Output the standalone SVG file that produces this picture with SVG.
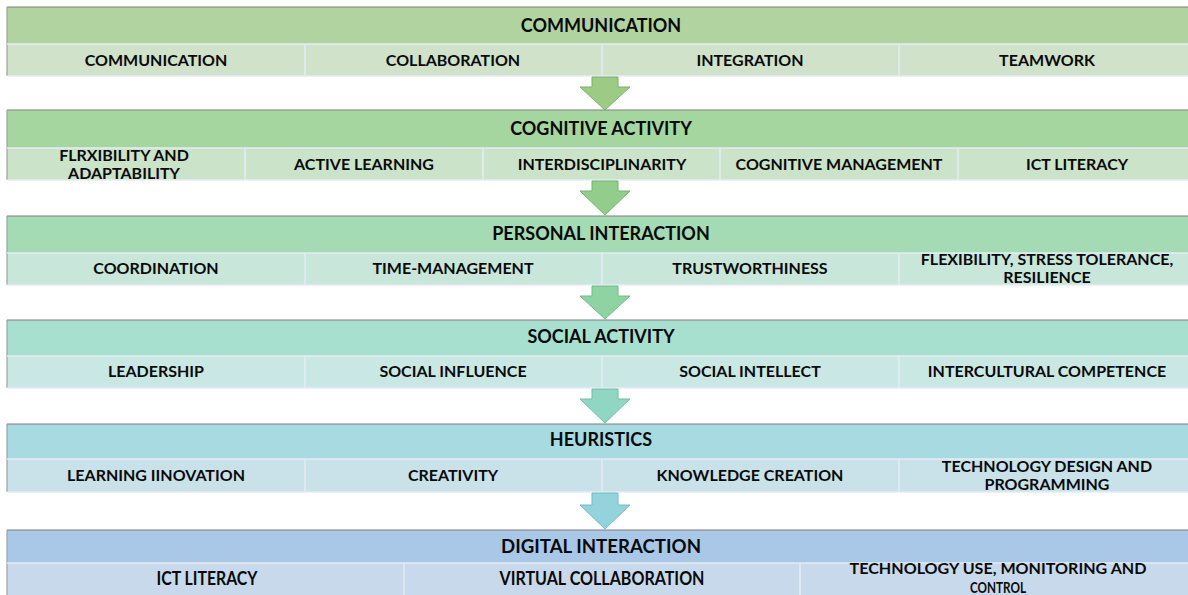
<svg xmlns="http://www.w3.org/2000/svg" width="1188" height="595" viewBox="0 0 1188 595">
<style>
text{font-family:Lato,"Liberation Sans",sans-serif;font-weight:700;font-size:16px;fill:#0a0a0a;text-anchor:middle}
text.h{font-size:18px}
.top{stroke:#7f7f7f;stroke-width:1.2}
.side{stroke:#a0a0a0;stroke-width:1.2}
.sep{stroke:#e4ecf4;stroke-width:1.5}
.arrow{stroke-width:1}
text.cond{font-size:19px}
text.cond2{font-size:15px}
</style>
<rect width="1188" height="595" fill="#ffffff"/>

<g id="communication">
<rect x="7" y="7" width="1190" height="37" fill="#b0d3a0"/>
<rect x="7" y="44" width="1190" height="32" fill="#d0e2c9"/>
<line class="top" x1="7" y1="7" x2="1190" y2="7"/>
<line class="side" x1="7" y1="7" x2="7" y2="76"/>
<line class="sep" x1="7" y1="44" x2="1190" y2="44"/>
<line class="sep" x1="7" y1="76" x2="1190" y2="76"/>
<line class="sep" x1="305" y1="44" x2="305" y2="76"/>
<line class="sep" x1="602" y1="44" x2="602" y2="76"/>
<line class="sep" x1="899" y1="44" x2="899" y2="76"/>
<text class="h" x="601" y="32">COMMUNICATION</text>
<text x="156" y="66">COMMUNICATION</text>
<text x="453" y="66">COLLABORATION</text>
<text x="750" y="66">INTEGRATION</text>
<text x="1047" y="66">TEAMWORK</text>
</g>

<g id="cognitive-activity">
<rect x="7" y="110" width="1190" height="38" fill="#a6d6a0"/>
<rect x="7" y="148" width="1190" height="32" fill="#cae3c9"/>
<line class="top" x1="7" y1="110" x2="1190" y2="110"/>
<line class="side" x1="7" y1="110" x2="7" y2="180"/>
<line class="sep" x1="7" y1="148" x2="1190" y2="148"/>
<line class="sep" x1="7" y1="180" x2="1190" y2="180"/>
<line class="sep" x1="245" y1="148" x2="245" y2="180"/>
<line class="sep" x1="483" y1="148" x2="483" y2="180"/>
<line class="sep" x1="720" y1="148" x2="720" y2="180"/>
<line class="sep" x1="958" y1="148" x2="958" y2="180"/>
<text class="h" x="601" y="135">COGNITIVE ACTIVITY</text>
<text x="124" y="161">FLRXIBILITY AND</text>
<text x="124" y="179">ADAPTABILITY</text>
<text x="364" y="170">ACTIVE LEARNING</text>
<text x="602" y="170">INTERDISCIPLINARITY</text>
<text x="839" y="170">COGNITIVE MANAGEMENT</text>
<text x="1077" y="170">ICT LITERACY</text>
</g>

<g id="personal-interaction">
<rect x="7" y="216" width="1190" height="37" fill="#a4dab4"/>
<rect x="7" y="253" width="1190" height="32" fill="#c9e6da"/>
<line class="top" x1="7" y1="216" x2="1190" y2="216"/>
<line class="side" x1="7" y1="216" x2="7" y2="285"/>
<line class="sep" x1="7" y1="253" x2="1190" y2="253"/>
<line class="sep" x1="7" y1="285" x2="1190" y2="285"/>
<line class="sep" x1="305" y1="253" x2="305" y2="285"/>
<line class="sep" x1="602" y1="253" x2="602" y2="285"/>
<line class="sep" x1="899" y1="253" x2="899" y2="285"/>
<text class="h" x="601" y="240">PERSONAL INTERACTION</text>
<text x="156" y="274">COORDINATION</text>
<text x="453" y="274">TIME-MANAGEMENT</text>
<text x="750" y="274">TRUSTWORTHINESS</text>
<text x="1047" y="265">FLEXIBILITY, STRESS TOLERANCE,</text>
<text x="1047" y="283">RESILIENCE</text>
</g>

<g id="social-activity">
<rect x="7" y="320" width="1190" height="36" fill="#a8e0cf"/>
<rect x="7" y="356" width="1190" height="32" fill="#cae8e3"/>
<line class="top" x1="7" y1="320" x2="1190" y2="320"/>
<line class="side" x1="7" y1="320" x2="7" y2="388"/>
<line class="sep" x1="7" y1="356" x2="1190" y2="356"/>
<line class="sep" x1="7" y1="388" x2="1190" y2="388"/>
<line class="sep" x1="305" y1="356" x2="305" y2="388"/>
<line class="sep" x1="602" y1="356" x2="602" y2="388"/>
<line class="sep" x1="899" y1="356" x2="899" y2="388"/>
<text class="h" x="601" y="343">SOCIAL ACTIVITY</text>
<text x="156" y="377">LEADERSHIP</text>
<text x="453" y="377">SOCIAL INFLUENCE</text>
<text x="750" y="377">SOCIAL INTELLECT</text>
<text x="1047" y="377">INTERCULTURAL COMPETENCE</text>
</g>

<g id="heuristics">
<rect x="7" y="424" width="1190" height="35" fill="#a7dbe1"/>
<rect x="7" y="459" width="1190" height="33" fill="#c9e2e9"/>
<line class="top" x1="7" y1="424" x2="1190" y2="424"/>
<line class="side" x1="7" y1="424" x2="7" y2="492"/>
<line class="sep" x1="7" y1="459" x2="1190" y2="459"/>
<line class="sep" x1="7" y1="492" x2="1190" y2="492"/>
<line class="sep" x1="305" y1="459" x2="305" y2="492"/>
<line class="sep" x1="602" y1="459" x2="602" y2="492"/>
<line class="sep" x1="899" y1="459" x2="899" y2="492"/>
<text class="h" x="601" y="446">HEURISTICS</text>
<text x="156" y="481">LEARNING IINOVATION</text>
<text x="453" y="481">CREATIVITY</text>
<text x="750" y="481">KNOWLEDGE CREATION</text>
<text x="1047" y="472">TECHNOLOGY DESIGN AND</text>
<text x="1047" y="490">PROGRAMMING</text>
</g>

<g id="digital-interaction">
<rect x="7" y="530" width="1190" height="33" fill="#a9c7e6"/>
<rect x="7" y="563" width="1190" height="34" fill="#c9d9ec"/>
<line class="top" x1="7" y1="530" x2="1190" y2="530"/>
<line class="side" x1="7" y1="530" x2="7" y2="595"/>
<line class="sep" x1="7" y1="563" x2="1190" y2="563"/>
<line class="sep" x1="404" y1="563" x2="404" y2="595"/>
<line class="sep" x1="800" y1="563" x2="800" y2="595"/>
<text class="cond" x="601" y="553" textLength="200" lengthAdjust="spacingAndGlyphs">DIGITAL INTERACTION</text>
<text class="cond" x="207" y="585" textLength="101" lengthAdjust="spacingAndGlyphs">ICT LITERACY</text>
<text class="cond" x="602" y="585" textLength="205" lengthAdjust="spacingAndGlyphs">VIRTUAL COLLABORATION</text>
<text class="cond2" x="998" y="574" textLength="297" lengthAdjust="spacingAndGlyphs">TECHNOLOGY USE, MONITORING AND</text>
<text class="cond2" x="998" y="593" textLength="56" lengthAdjust="spacingAndGlyphs">CONTROL</text>
</g>

<g id="connectors">
<polygon class="arrow" points="592,77 618,77 618,87 630,87 605,110 580,87 592,87" fill="#9ccb86" stroke="#7fae6c"/>
<polygon class="arrow" points="592,181 618,181 618,191 630,191 605,215 580,191 592,191" fill="#92cd8c" stroke="#78b172"/>
<polygon class="arrow" points="592,286 618,286 618,296 630,296 605,319 580,296 592,296" fill="#8fd3a2" stroke="#76b88a"/>
<polygon class="arrow" points="592,389 618,389 618,399 630,399 605,423 580,399 592,399" fill="#8fd7c2" stroke="#76bca8"/>
<polygon class="arrow" points="592,493 618,493 618,505 630,505 605,529 580,505 592,505" fill="#92d3dc" stroke="#78b8c2"/>
</g>
</svg>
